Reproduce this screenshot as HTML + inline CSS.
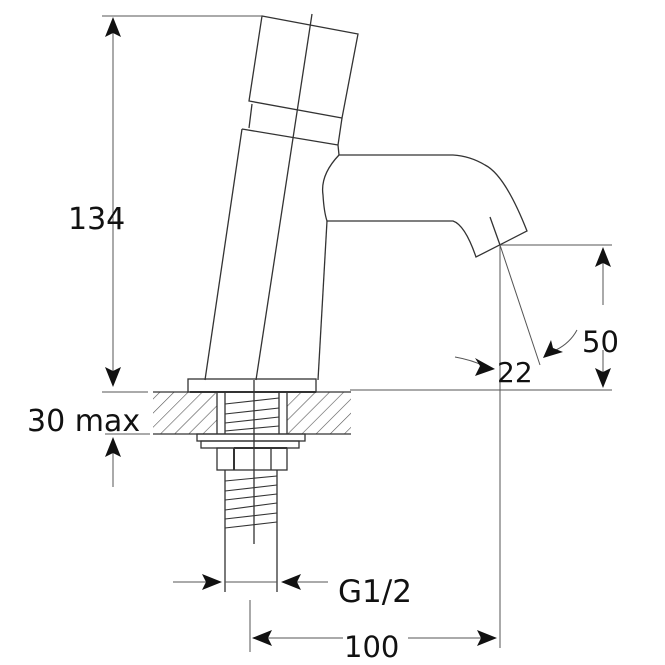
<!DOCTYPE html>
<html><head><style>body{margin:0;background:#fff}svg{display:block}text{font-family:"DejaVu Sans","Liberation Sans",sans-serif;fill:#111}</style></head>
<body>
<svg width="665" height="665" viewBox="0 0 665 665" xmlns="http://www.w3.org/2000/svg">
<defs>
<pattern id="h" width="10" height="10" patternUnits="userSpaceOnUse" patternTransform="rotate(45)">
<line x1="0" y1="0" x2="0" y2="10" stroke="#555" stroke-width="1.2"/>
</pattern>
</defs>
<g fill="none" stroke="#333" stroke-width="1.3">
<rect x="153" y="392" width="64" height="42" fill="url(#h)" stroke="none"/>
<rect x="287" y="392" width="64" height="42" fill="url(#h)" stroke="none"/>
<line x1="153" y1="392" x2="351" y2="392"/>
<line x1="153" y1="434" x2="351" y2="434"/>
<polygon points="262,16 358,34 342,118 249,101"/>
<polyline points="252,104 249,128"/>
<line x1="242" y1="129" x2="338" y2="145"/>
<polyline points="342,118 338,145 339,155"/>
<line x1="242" y1="129" x2="205" y2="380"/>
<line x1="327" y1="221" x2="318" y2="380"/>
<line x1="312" y1="14" x2="256" y2="380"/>
<path d="M339,155 Q320,175 323,195 Q324,212 327,221 L453,221 Q465,225 476,257 L527,231 Q505,175 485,165 Q470,156 453,155 L339,155"/>
<line x1="490" y1="217" x2="500" y2="245"/>
<rect x="188" y="379" width="128" height="13"/>
<line x1="190" y1="392" x2="316" y2="392" stroke-width="2"/>
<line x1="217" y1="392" x2="217" y2="434"/><line x1="225" y1="392" x2="225" y2="434"/>
<line x1="279" y1="392" x2="279" y2="434"/><line x1="287" y1="392" x2="287" y2="434"/>
<g stroke-width="1.1">
<line x1="225" y1="404" x2="279" y2="398"/><line x1="225" y1="414" x2="279" y2="408"/>
<line x1="225" y1="423" x2="279" y2="417"/><line x1="225" y1="431" x2="279" y2="426"/>
</g>
<rect x="197" y="434" width="108" height="7"/>
<rect x="201" y="441" width="98" height="7"/>
<rect x="217" y="448" width="70" height="22"/>
<line x1="234" y1="448" x2="234" y2="470" stroke-width="2"/>
<line x1="234" y1="448" x2="287" y2="448" stroke-width="2"/>
<line x1="271" y1="448" x2="271" y2="470"/>
<line x1="225" y1="470" x2="225" y2="592"/><line x1="277" y1="470" x2="277" y2="592"/>
<line x1="254" y1="380" x2="254" y2="544"/>
<g stroke-width="1.1">
<line x1="225" y1="481" x2="277" y2="476"/><line x1="225" y1="491" x2="277" y2="485"/>
<line x1="225" y1="500" x2="277" y2="494"/><line x1="225" y1="510" x2="277" y2="503"/>
<line x1="225" y1="519" x2="277" y2="513"/><line x1="225" y1="528" x2="277" y2="522"/>
</g>
</g>
<g fill="none" stroke="#555" stroke-width="1">
<line x1="102" y1="16" x2="262" y2="16"/>
<line x1="113" y1="30" x2="113" y2="372"/>
<line x1="102" y1="392" x2="148" y2="392"/>
<line x1="105" y1="434" x2="150" y2="434"/>
<line x1="113" y1="450" x2="113" y2="487"/>
<line x1="500" y1="245" x2="612" y2="245"/>
<line x1="350" y1="390" x2="612" y2="390"/>
<line x1="500" y1="245" x2="500" y2="648"/>
<line x1="500" y1="245" x2="540" y2="365"/>
<line x1="603" y1="262" x2="603" y2="305"/>
<line x1="603" y1="350" x2="603" y2="375"/>
<path d="M455,357 Q472,360 484,366"/>
<path d="M577,330 Q570,343 556,350"/>
<line x1="173" y1="582" x2="210" y2="582"/>
<line x1="225" y1="582" x2="277" y2="582"/>
<line x1="293" y1="582" x2="328" y2="582"/>
<line x1="250" y1="600" x2="250" y2="652"/>
<line x1="265" y1="638" x2="343" y2="638"/>
<line x1="408" y1="638" x2="485" y2="638"/>
</g>
<g fill="#111">
<polygon points="113,17 105,37 113,33 121,37"/>
<polygon points="113,387 105,367 113,371 121,367"/>
<polygon points="113,437 105,457 113,453 121,457"/>
<polygon points="603,247 595,267 603,263 611,267"/>
<polygon points="603,388 595,368 603,372 611,368"/>
<polygon points="222,582 202,574 206,582 202,590"/>
<polygon points="281,582 301,574 297,582 301,590"/>
<polygon points="252,638 272,630 268,638 272,646"/>
<polygon points="497,638 477,630 481,638 477,646"/>
<polygon points="495,369 475,358 480,366 475,376"/>
<polygon points="543,358 551,340 553,348 563,352"/>
</g>
<text x="68" y="229" font-size="30">134</text>
<text x="27" y="431" font-size="30">30 max</text>
<text x="582" y="352" font-size="29">50</text>
<text x="497" y="382" font-size="28">22</text>
<text x="338" y="602" font-size="31">G1/2</text>
<text x="344" y="657" font-size="29">100</text>
</svg>
</body></html>
